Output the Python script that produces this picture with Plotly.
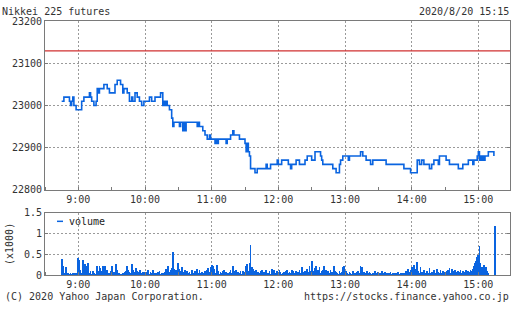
import plotly.graph_objects as go
import pandas as pd

DAY = "2020-08-20"

# ---- price (step line) change points ----
price_times = [
    "08:45", "08:47", "08:52", "08:53", "08:54", "08:55", "08:56", "08:58",
    "09:03", "09:05", "09:10", "09:11", "09:12", "09:14", "09:16", "09:17",
    "09:18", "09:19", "09:23", "09:26", "09:28", "09:33", "09:35", "09:38",
    "09:40", "09:41", "09:44", "09:46", "09:48", "09:49", "09:51", "09:53",
    "09:55", "09:57", "09:59", "10:04", "10:06", "10:09", "10:14", "10:16",
    "10:17", "10:18", "10:19", "10:20", "10:22", "10:24", "10:25", "10:26",
    "10:31", "10:32", "10:34", "10:35", "10:36", "10:37", "10:47", "10:48",
    "10:49", "10:52", "10:54", "10:56", "10:58", "10:59", "11:03", "11:04",
    "11:05", "11:06", "11:13", "11:14", "11:17", "11:19", "11:20", "11:25",
    "11:30", "11:31", "11:32", "11:33", "11:34", "11:35", "11:39", "11:41",
    "11:49", "11:50", "11:53", "11:59", "12:00", "12:03", "12:09", "12:11",
    "12:12", "12:16", "12:19", "12:24", "12:26", "12:30", "12:33", "12:38",
    "12:39", "12:40", "12:49", "12:52", "12:55", "12:56", "12:58", "13:03",
    "13:04", "13:14", "13:16", "13:19", "13:23", "13:25", "13:37", "13:53",
    "13:59", "14:05", "14:07", "14:09", "14:11", "14:16", "14:18", "14:20",
    "14:24", "14:25", "14:31", "14:34", "14:42", "14:46", "14:51", "14:55",
    "14:56", "14:59", "15:00", "15:01", "15:02", "15:03", "15:04", "15:05",
    "15:06", "15:09", "15:14",
]
price_values = [
    23010, 23020, 23010, 23000, 23010, 23020, 23000, 22990,
    23010, 23020, 23030, 23020, 23010, 23000, 23010, 23040,
    23030, 23040, 23050, 23040, 23030, 23050, 23060, 23050,
    23030, 23040, 23030, 23010, 23020, 23010, 23030, 23020,
    23010, 23000, 23010, 23020, 23010, 23020, 23030, 23000,
    23010, 23000, 23010, 23000, 22990, 22970, 22950, 22960,
    22950, 22960, 22940, 22960, 22940, 22960, 22950, 22960,
    22950, 22940, 22930, 22920, 22930, 22920, 22910, 22920,
    22910, 22920, 22910, 22920, 22930, 22940, 22930, 22920,
    22910, 22890, 22910, 22890, 22880, 22850, 22840, 22850,
    22860, 22850, 22860, 22870, 22860, 22870, 22860, 22850,
    22860, 22870, 22860, 22870, 22880, 22870, 22890, 22880,
    22870, 22860, 22850, 22840, 22860, 22870, 22880, 22870,
    22880, 22890, 22880, 22870, 22860, 22870, 22860, 22850,
    22840, 22870, 22860, 22870, 22860, 22850, 22860, 22870,
    22860, 22880, 22870, 22860, 22850, 22860, 22870, 22860,
    22870, 22880, 22890, 22870, 22880, 22870, 22880, 22870,
    22880, 22890, 22880,
]
prev_close = 23130

# ---- volume (x1000), one bar per minute, 08:45 .. 15:15 (15 per row) ----
volume_start = "08:45"
volume_values = [
    0.40, 0.23, 0.03, 0.06, 0.20, 0.03, 0.06, 0.03, 0.05, 0.03, 0.06, 0.03, 0.05, 0.04, 0.06,  # 08:45
    0.43, 0.38, 0.12, 0.05, 0.38, 0.10, 0.27, 0.12, 0.22, 0.30, 0.06, 0.10, 0.04, 0.10, 0.05,  # 09:00
    0.04, 0.03, 0.22, 0.10, 0.23, 0.17, 0.10, 0.22, 0.05, 0.23, 0.10, 0.13, 0.06, 0.05, 0.10,  # 09:15
    0.23, 0.07, 0.09, 0.05, 0.27, 0.13, 0.05, 0.06, 0.04, 0.03, 0.07, 0.05, 0.08, 0.10, 0.22,  # 09:30
    0.13, 0.08, 0.05, 0.27, 0.12, 0.09, 0.08, 0.17, 0.10, 0.08, 0.13, 0.13, 0.06, 0.08, 0.04,  # 09:45
    0.08, 0.06, 0.08, 0.14, 0.03, 0.08, 0.05, 0.12, 0.05, 0.03, 0.06, 0.04, 0.08, 0.10, 0.04,  # 10:00
    0.05, 0.06, 0.03, 0.08, 0.15, 0.06, 0.22, 0.09, 0.12, 0.18, 0.56, 0.15, 0.10, 0.12, 0.08,  # 10:15
    0.30, 0.15, 0.10, 0.20, 0.09, 0.08, 0.12, 0.06, 0.10, 0.05, 0.08, 0.04, 0.12, 0.06, 0.05,  # 10:30
    0.10, 0.08, 0.15, 0.06, 0.12, 0.05, 0.08, 0.03, 0.06, 0.10, 0.07, 0.12, 0.18, 0.08, 0.20,  # 10:45
    0.26, 0.22, 0.15, 0.06, 0.05, 0.24, 0.10, 0.03, 0.08, 0.05, 0.10, 0.12, 0.06, 0.08, 0.04,  # 11:00
    0.06, 0.08, 0.12, 0.05, 0.22, 0.10, 0.05, 0.12, 0.06, 0.08, 0.05, 0.10, 0.04, 0.10, 0.08,  # 11:15
    0.06, 0.22, 0.27, 0.10, 0.30, 0.72, 0.20, 0.15, 0.10, 0.08, 0.12, 0.06, 0.09, 0.05, 0.10,  # 11:30
    0.14, 0.08, 0.05, 0.08, 0.12, 0.06, 0.05, 0.10, 0.04, 0.15, 0.08, 0.12, 0.05, 0.06, 0.10,  # 11:45
    0.05, 0.12, 0.08, 0.04, 0.06, 0.08, 0.05, 0.10, 0.12, 0.06, 0.08, 0.05, 0.14, 0.10, 0.07,  # 12:00
    0.06, 0.10, 0.05, 0.08, 0.12, 0.06, 0.20, 0.08, 0.05, 0.10, 0.06, 0.15, 0.08, 0.22, 0.10,  # 12:15
    0.35, 0.10, 0.06, 0.18, 0.22, 0.08, 0.12, 0.20, 0.06, 0.10, 0.12, 0.22, 0.08, 0.14, 0.05,  # 12:30
    0.10, 0.06, 0.12, 0.08, 0.05, 0.22, 0.10, 0.08, 0.06, 0.04, 0.10, 0.06, 0.08, 0.20, 0.22,  # 12:45
    0.06, 0.10, 0.05, 0.04, 0.08, 0.06, 0.04, 0.10, 0.05, 0.03, 0.06, 0.08, 0.10, 0.05, 0.23,  # 13:00
    0.20, 0.04, 0.08, 0.06, 0.04, 0.10, 0.05, 0.08, 0.06, 0.04, 0.05, 0.06, 0.10, 0.04, 0.06,  # 13:15
    0.08, 0.05, 0.06, 0.10, 0.04, 0.06, 0.08, 0.05, 0.04, 0.06, 0.05, 0.08, 0.04, 0.06, 0.05,  # 13:30
    0.04, 0.06, 0.05, 0.08, 0.04, 0.05, 0.06, 0.03, 0.05, 0.04, 0.10, 0.06, 0.15, 0.08, 0.12,  # 13:45
    0.20, 0.10, 0.25, 0.15, 0.06, 0.33, 0.10, 0.06, 0.20, 0.08, 0.05, 0.12, 0.06, 0.04, 0.10,  # 14:00
    0.05, 0.18, 0.06, 0.08, 0.04, 0.12, 0.06, 0.05, 0.15, 0.08, 0.06, 0.12, 0.05, 0.10, 0.06,  # 14:15
    0.08, 0.05, 0.10, 0.12, 0.18, 0.06, 0.15, 0.10, 0.05, 0.12, 0.08, 0.06, 0.10, 0.08, 0.12,  # 14:30
    0.06, 0.10, 0.08, 0.05, 0.12, 0.06, 0.10, 0.08, 0.12, 0.10, 0.15, 0.22, 0.30, 0.35, 0.45,  # 14:45
    0.50, 0.70, 0.30, 0.20, 0.20, 0.25, 0.15, 0.20, 0.10, 0.05, 0.00, 0.00, 0.00, 0.00, 0.00,  # 15:00
    1.20,                                                                                      # 15:15
]

tick_hours = ["09:00", "10:00", "11:00", "12:00", "13:00", "14:00", "15:00"]
tick_labels = ["9:00", "10:00", "11:00", "12:00", "13:00", "14:00", "15:00"]
price_ticks = [22800, 22900, 23000, 23100, 23200]
volume_ticks = [0, 0.5, 1, 1.5]
volume_tick_labels = ["0", "0.5", "1", "1.5"]

# ---------------------------------------------------------------------------
px_t = [f"{DAY} {t}" for t in price_times]
vol_t = pd.date_range(f"{DAY} {volume_start}", periods=len(volume_values), freq="1min")
vol_t = [t.strftime("%Y-%m-%d %H:%M:%S") for t in vol_t]
tickvals = [f"{DAY} {t}" for t in tick_hours]

BLUE = "#0a64e0"
FONT = "DejaVu Sans Mono"
FS = 10
TXT = "#333333"
AX = "#7a7a7a"
GRID = "#9a9a9a"
X_RANGE = [f"{DAY} 08:30", f"{DAY} 15:28:30"]

fig = go.Figure()
fig.add_trace(go.Scatter(
    x=px_t, y=price_values, mode="lines", line=dict(color=BLUE, width=1.6, shape="hv"),
    xaxis="x", yaxis="y", showlegend=False, hoverinfo="skip"))
fig.add_trace(go.Bar(
    x=vol_t, y=volume_values, marker=dict(color=BLUE, line=dict(width=0)), width=40000,
    xaxis="x2", yaxis="y2", showlegend=False, hoverinfo="skip"))

xcommon = dict(
    type="date", range=X_RANGE, domain=[45 / 512, 510 / 512],
    tickmode="array", tickvals=tickvals, ticktext=tick_labels,
    showgrid=True, gridcolor=GRID, griddash="2px,2px", gridwidth=1,
    showline=True, linecolor=AX, linewidth=1, mirror=True,
    ticks="", tickfont=dict(family=FONT, size=FS, color=TXT),
    minor=dict(dtick=1800000, tick0=f"{DAY} 08:30", ticks="inside", ticklen=3,
               tickcolor=AX, showgrid=False),
    zeroline=False, fixedrange=True,
)
ycommon = dict(
    showgrid=True, gridcolor=GRID, griddash="2px,2px",
    showline=True, linecolor=AX, mirror="ticks",
    ticks="inside", ticklen=3, tickcolor=AX,
    tickfont=dict(family=FONT, size=FS, color=TXT), zeroline=False, fixedrange=True,
)
fig.update_layout(
    width=512, height=310, margin=dict(l=0, r=0, t=0, b=0),
    paper_bgcolor="white", plot_bgcolor="white", bargap=0,
    xaxis=dict(xcommon, anchor="y"),
    xaxis2=dict(xcommon, anchor="y2"),
    yaxis=dict(ycommon,
               domain=[1 - 191 / 310, 1 - 16 / 310], range=[22800, 23200],
               tickmode="array", tickvals=price_ticks, ticktext=[str(v) for v in price_ticks]),
    yaxis2=dict(ycommon,
                domain=[1 - 280 / 310, 1 - 215 / 310], range=[0, 1.5],
                tickmode="array", tickvals=volume_ticks, ticktext=volume_tick_labels,
                title=dict(text="(x1000)", font=dict(family=FONT, size=FS, color=TXT), standoff=8)),
)

# previous close reference line
fig.add_shape(type="line", xref="x domain", yref="y", x0=0, x1=1, y0=prev_close, y1=prev_close,
              line=dict(color="#d03030", width=1.2))

# legend in volume panel
fig.add_shape(type="line", xref="paper", yref="paper", x0=57 / 512, x1=63 / 512,
              y0=1 - 224 / 310, y1=1 - 224 / 310, line=dict(color=BLUE, width=1.5))
fig.add_annotation(x=67 / 512, y=1 - 224 / 310, xref="paper", yref="paper", text="volume",
                   showarrow=False, xanchor="left", yanchor="middle",
                   font=dict(family=FONT, size=FS, color="#222222"))

# header / footer
fig.add_annotation(x=0, y=1 - 5.5 / 310, xref="paper", yref="paper", text="Nikkei 225 futures",
                   showarrow=False, xanchor="left", yanchor="middle",
                   font=dict(family=FONT, size=FS, color=TXT))
fig.add_annotation(x=511 / 512, y=1 - 5.5 / 310, xref="paper", yref="paper", text="2020/8/20 15:15",
                   showarrow=False, xanchor="right", yanchor="middle",
                   font=dict(family=FONT, size=FS, color=TXT))
fig.add_annotation(x=3 / 512, y=1 - 302 / 310, xref="paper", yref="paper",
                   text="(C) 2020 Yahoo Japan Corporation.",
                   showarrow=False, xanchor="left", yanchor="middle",
                   font=dict(family=FONT, size=FS, color=TXT))
fig.add_annotation(x=511 / 512, y=1 - 302 / 310, xref="paper", yref="paper",
                   text="https://stocks.finance.yahoo.co.jp",
                   showarrow=False, xanchor="right", yanchor="middle",
                   font=dict(family=FONT, size=FS, color=TXT))

fig.write_html("out.html", config={"displayModeBar": False})
